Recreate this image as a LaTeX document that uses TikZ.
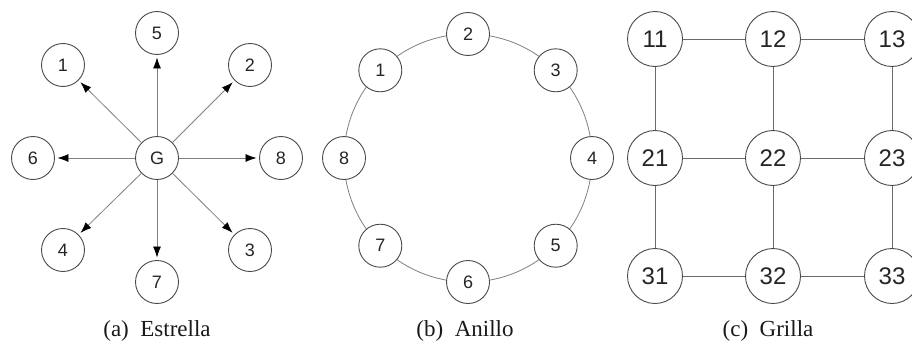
\documentclass[tikz,border=0pt]{standalone}
\usepackage{fontspec}
\setmainfont{Liberation Serif}
\newfontfamily\nodefont{Liberation Sans}
\usetikzlibrary{arrows.meta,calc}
\definecolor{rimgray}{HTML}{4A4A4A}
\definecolor{edgegray}{HTML}{808080}
\definecolor{gridedge}{HTML}{6A6A6A}
\tikzset{
  vert/.style={circle, draw=rimgray, line width=0.9pt, fill=white,
    minimum size=43pt, inner sep=0pt,
    font=\nodefont\fontsize{18}{18}\selectfont, text=black!85},
  bigvert/.style={vert, minimum size=55pt,
    font=\nodefont\fontsize{24}{24}\selectfont},
  link/.style={draw=edgegray, line width=0.8pt},
  gridlink/.style={draw=gridedge, line width=0.9pt},
  arrowlink/.style={link, -{Latex[length=11pt,width=8pt,black]}, shorten >=2.5pt},
  caption/.style={anchor=base, font=\fontsize{23}{23}\selectfont, text=black!90}
}
\begin{document}
\begin{tikzpicture}[x=1pt,y=-1pt]
\useasboundingbox (0,0) rectangle (912,340);

% (a) star: hub G sends to eight leaves
\node[vert] (G) at (157,158) {G};
\node[vert] (s5) at (157,33) {5};
\node[vert] (s1) at (63,65) {1};
\node[vert] (s2) at (250,65) {2};
\node[vert] (s6) at (33,158) {6};
\node[vert] (s8) at (281,158) {8};
\node[vert] (s4) at (63,250) {4};
\node[vert] (s3) at (250,250) {3};
\node[vert] (s7) at (157,282) {7};
\foreach \t in {s1,s2,s3,s4,s5,s6,s7,s8}
  \draw[arrowlink] (G) -- (\t);
\node[caption] (capa) at (157,336) {(a)\enspace Estrella};

% (b) ring: eight nodes on a circle
\coordinate (rc) at (468,158);
\draw[link] (rc) circle[radius=124];
\node[vert] (r2) at ($(rc)+(0,-124)$) {2};
\node[vert] (r3) at ($(rc)+(87.7,-87.7)$) {3};
\node[vert] (r4) at ($(rc)+(124,0)$) {4};
\node[vert] (r5) at ($(rc)+(87.7,87.7)$) {5};
\node[vert] (r6) at ($(rc)+(0,124)$) {6};
\node[vert] (r7) at ($(rc)+(-87.7,87.7)$) {7};
\node[vert] (r8) at ($(rc)+(-124,0)$) {8};
\node[vert] (r1) at ($(rc)+(-87.7,-87.7)$) {1};
\node[caption] (capb) at (465,336) {(b)\enspace Anillo};

% (c) 3x3 grid
\foreach \r/\y in {1/39,2/158,3/276}
  \foreach \c/\x in {1/655,2/773,3/892}
    \node[bigvert] (g\r\c) at (\x,\y) {\r\c};
\foreach \r in {1,2,3} {
  \draw[gridlink] (g\r1) -- (g\r2);
  \draw[gridlink] (g\r2) -- (g\r3);
}
\foreach \c in {1,2,3} {
  \draw[gridlink] (g1\c) -- (g2\c);
  \draw[gridlink] (g2\c) -- (g3\c);
}
\node[caption] (capc) at (768,336) {(c)\enspace Grilla};
\end{tikzpicture}
\end{document}
